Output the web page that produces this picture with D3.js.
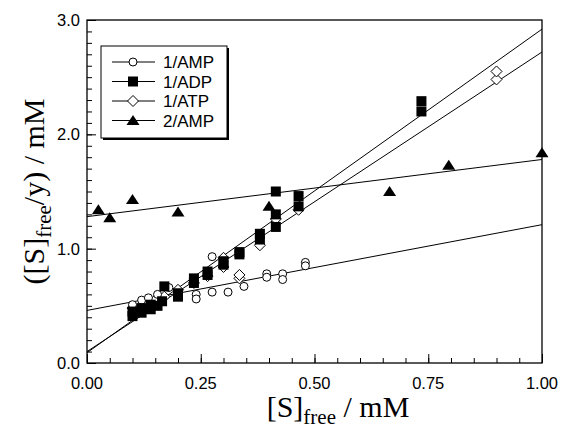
<!DOCTYPE html>
<html lang="en">
<head>
<meta charset="UTF-8">
<title>Hanes plot</title>
<style>
  body { margin: 0; background: #fff; }
  svg { display: block; }
</style>
</head>
<body>
<svg id="chart" width="561" height="430"></svg>
<script src="https://cdnjs.cloudflare.com/ajax/libs/d3/7.8.5/d3.min.js"></script>
<script>

// data: [S]free (mM), [S]free/y (mM)
let amp1 = [
  [0.10, 0.51], [0.12, 0.55], [0.135, 0.57], [0.155, 0.60], [0.18, 0.66],
  [0.24, 0.60], [0.24, 0.56], [0.275, 0.93], [0.275, 0.62], [0.31, 0.62],
  [0.345, 0.67], [0.395, 0.78], [0.395, 0.75], [0.43, 0.78], [0.43, 0.73],
  [0.48, 0.88], [0.48, 0.85]
];
let adp1 = [
  [0.10, 0.41], [0.10, 0.45], [0.12, 0.44], [0.12, 0.48], [0.14, 0.47],
  [0.14, 0.51], [0.155, 0.50], [0.165, 0.54], [0.17, 0.67], [0.20, 0.58],
  [0.20, 0.61], [0.235, 0.70], [0.235, 0.74], [0.265, 0.77], [0.265, 0.80],
  [0.30, 0.86], [0.30, 0.89], [0.335, 0.95], [0.335, 0.97], [0.38, 1.08],
  [0.38, 1.13], [0.415, 1.19], [0.415, 1.30], [0.415, 1.50], [0.465, 1.37],
  [0.465, 1.46], [0.735, 2.20], [0.735, 2.29]
];
let atp1 = [
  [0.10, 0.48], [0.13, 0.52], [0.15, 0.55], [0.17, 0.58], [0.20, 0.64],
  [0.235, 0.70], [0.265, 0.76], [0.30, 0.84], [0.30, 0.92], [0.335, 0.74],
  [0.335, 0.77], [0.38, 1.03], [0.415, 1.26], [0.465, 1.34], [0.90, 2.48],
  [0.90, 2.55]
];
let amp2 = [
  [0.025, 1.34], [0.05, 1.27], [0.10, 1.43], [0.20, 1.32], [0.40, 1.37],
  [0.665, 1.50], [0.795, 1.73], [1.00, 1.84]
];

// fitted lines: [intercept, slope]
let fitAmp1 = [0.46, 0.75];
let fitAdp1 = [0.09, 2.83];
let fitAtp1 = [0.10, 2.62];
let fitAmp2 = [1.28, 0.50];

let legendNames = ["1/AMP", "1/ADP", "1/ATP", "2/AMP"];
let xTicks = [0, 0.25, 0.5, 0.75, 1.0];
let yTicks = [0, 1, 2, 3];

let margin = {top: 20, right: 19, bottom: 67, left: 87};
let width = 561, height = 430;

let svg = d3.select("#chart");

let x = d3.scaleLinear().domain([0, 1]).range([margin.left, width - margin.right]);
let y = d3.scaleLinear().domain([0, 3]).range([height - margin.bottom, margin.top]);

// frame
svg.append("rect")
  .attr("x", x(0)).attr("y", y(3))
  .attr("width", x(1) - x(0)).attr("height", y(0) - y(3))
  .attr("fill", "none").attr("stroke", "#000").attr("stroke-width", 1.3);

// x axis with minor ticks pointing inward
let xMinor = d3.range(0, 1.0001, 0.05);
svg.append("g")
  .attr("transform", `translate(0,${y(0)})`)
  .call(d3.axisTop(x).tickValues(xMinor).tickSize(5).tickFormat(""))
  .call(g => g.select(".domain").remove());
svg.append("g")
  .attr("transform", `translate(0,${y(0)})`)
  .call(d3.axisTop(x).tickValues(xTicks).tickSize(9).tickFormat(""))
  .call(g => g.select(".domain").remove());
svg.append("g")
  .selectAll("text")
  .data(xTicks)
  .enter().append("text")
  .attr("x", d => x(d))
  .attr("y", y(0) + 26)
  .attr("text-anchor", "middle")
  .attr("font-family", "Liberation Sans, Arial, sans-serif")
  .attr("font-size", 16.5)
  .text(d => d3.format(".2f")(d));

// y axis
let yMinor = d3.range(0, 3.0001, 0.1);
svg.append("g")
  .attr("transform", `translate(${x(0)},0)`)
  .call(d3.axisRight(y).tickValues(yMinor).tickSize(5).tickFormat(""))
  .call(g => g.select(".domain").remove());
svg.append("g")
  .attr("transform", `translate(${x(0)},0)`)
  .call(d3.axisRight(y).tickValues(yTicks).tickSize(9).tickFormat(""))
  .call(g => g.select(".domain").remove());
svg.append("g")
  .selectAll("text")
  .data(yTicks)
  .enter().append("text")
  .attr("x", x(0) - 7)
  .attr("y", d => y(d) + 6)
  .attr("text-anchor", "end")
  .attr("font-family", "Liberation Sans, Arial, sans-serif")
  .attr("font-size", 16.5)
  .text(d => d3.format(".1f")(d));

svg.selectAll(".tick line").attr("stroke", "#000").attr("stroke-width", 1);

// axis titles
let xt = svg.append("text")
  .attr("x", 338)
  .attr("y", height - 13)
  .attr("text-anchor", "middle")
  .attr("font-family", "Liberation Serif, Times New Roman, serif")
  .attr("font-size", 30);
xt.append("tspan").text("[S]");
xt.append("tspan").attr("font-size", 21).attr("dy", 7).text("free");
xt.append("tspan").attr("dy", -7).text(" / mM");

let yt = svg.append("text")
  .attr("transform", `translate(44,${(y(0) + y(3)) / 2}) rotate(-90)`)
  .attr("text-anchor", "middle")
  .attr("font-family", "Liberation Serif, Times New Roman, serif")
  .attr("font-size", 30);
yt.append("tspan").text("([S]");
yt.append("tspan").attr("font-size", 21).attr("dy", 7).text("free");
yt.append("tspan").attr("dy", -7).text("/y) / mM");

// fit lines
let fits = [fitAmp1, fitAdp1, fitAtp1, fitAmp2];
svg.append("g")
  .selectAll("line")
  .data(fits)
  .enter().append("line")
  .attr("x1", x(0)).attr("y1", d => y(d[0]))
  .attr("x2", x(1)).attr("y2", d => y(d[0] + d[1]))
  .attr("stroke", "#000").attr("stroke-width", 1);

// markers
function drawCircle(g, cx, cy) {
  g.append("circle").attr("cx", cx).attr("cy", cy).attr("r", 4)
    .attr("fill", "#fff").attr("stroke", "#000").attr("stroke-width", 1);
}
function drawSquare(g, cx, cy) {
  g.append("rect").attr("x", cx - 5).attr("y", cy - 5).attr("width", 10).attr("height", 10)
    .attr("fill", "#000");
}
function drawDiamond(g, cx, cy) {
  g.append("path").attr("d", `M${cx},${cy - 5.5}L${cx + 5.5},${cy}L${cx},${cy + 5.5}L${cx - 5.5},${cy}Z`)
    .attr("fill", "#fff").attr("stroke", "#000").attr("stroke-width", 1);
}
function drawTriangle(g, cx, cy) {
  g.append("path").attr("d", `M${cx},${cy - 5.5}L${cx + 6.5},${cy + 4.5}L${cx - 6.5},${cy + 4.5}Z`)
    .attr("fill", "#000");
}

let pts = svg.append("g");
atp1.forEach(d => drawDiamond(pts, x(d[0]), y(d[1])));
amp1.forEach(d => drawCircle(pts, x(d[0]), y(d[1])));
adp1.forEach(d => drawSquare(pts, x(d[0]), y(d[1])));
amp2.forEach(d => drawTriangle(pts, x(d[0]), y(d[1])));

// legend
let lg = svg.append("g").attr("transform", "translate(101,46)");
lg.append("rect").attr("x", 2).attr("y", 2).attr("width", 126).attr("height", 92).attr("fill", "#000");
lg.append("rect").attr("x", 0).attr("y", 0).attr("width", 126).attr("height", 92)
  .attr("fill", "#fff").attr("stroke", "#000").attr("stroke-width", 1);
let markers = [drawCircle, drawSquare, drawDiamond, drawTriangle];
legendNames.forEach((name, i) => {
  let ry = 16 + i * 19.5;
  lg.append("line").attr("x1", 11).attr("x2", 54).attr("y1", ry).attr("y2", ry)
    .attr("stroke", "#000").attr("stroke-width", 1);
  markers[i](lg, 32, ry);
  lg.append("text").attr("x", 62).attr("y", ry + 6)
    .attr("font-family", "Liberation Sans, Arial, sans-serif")
    .attr("font-size", 17)
    .text(name);
});

</script>
</body>
</html>
